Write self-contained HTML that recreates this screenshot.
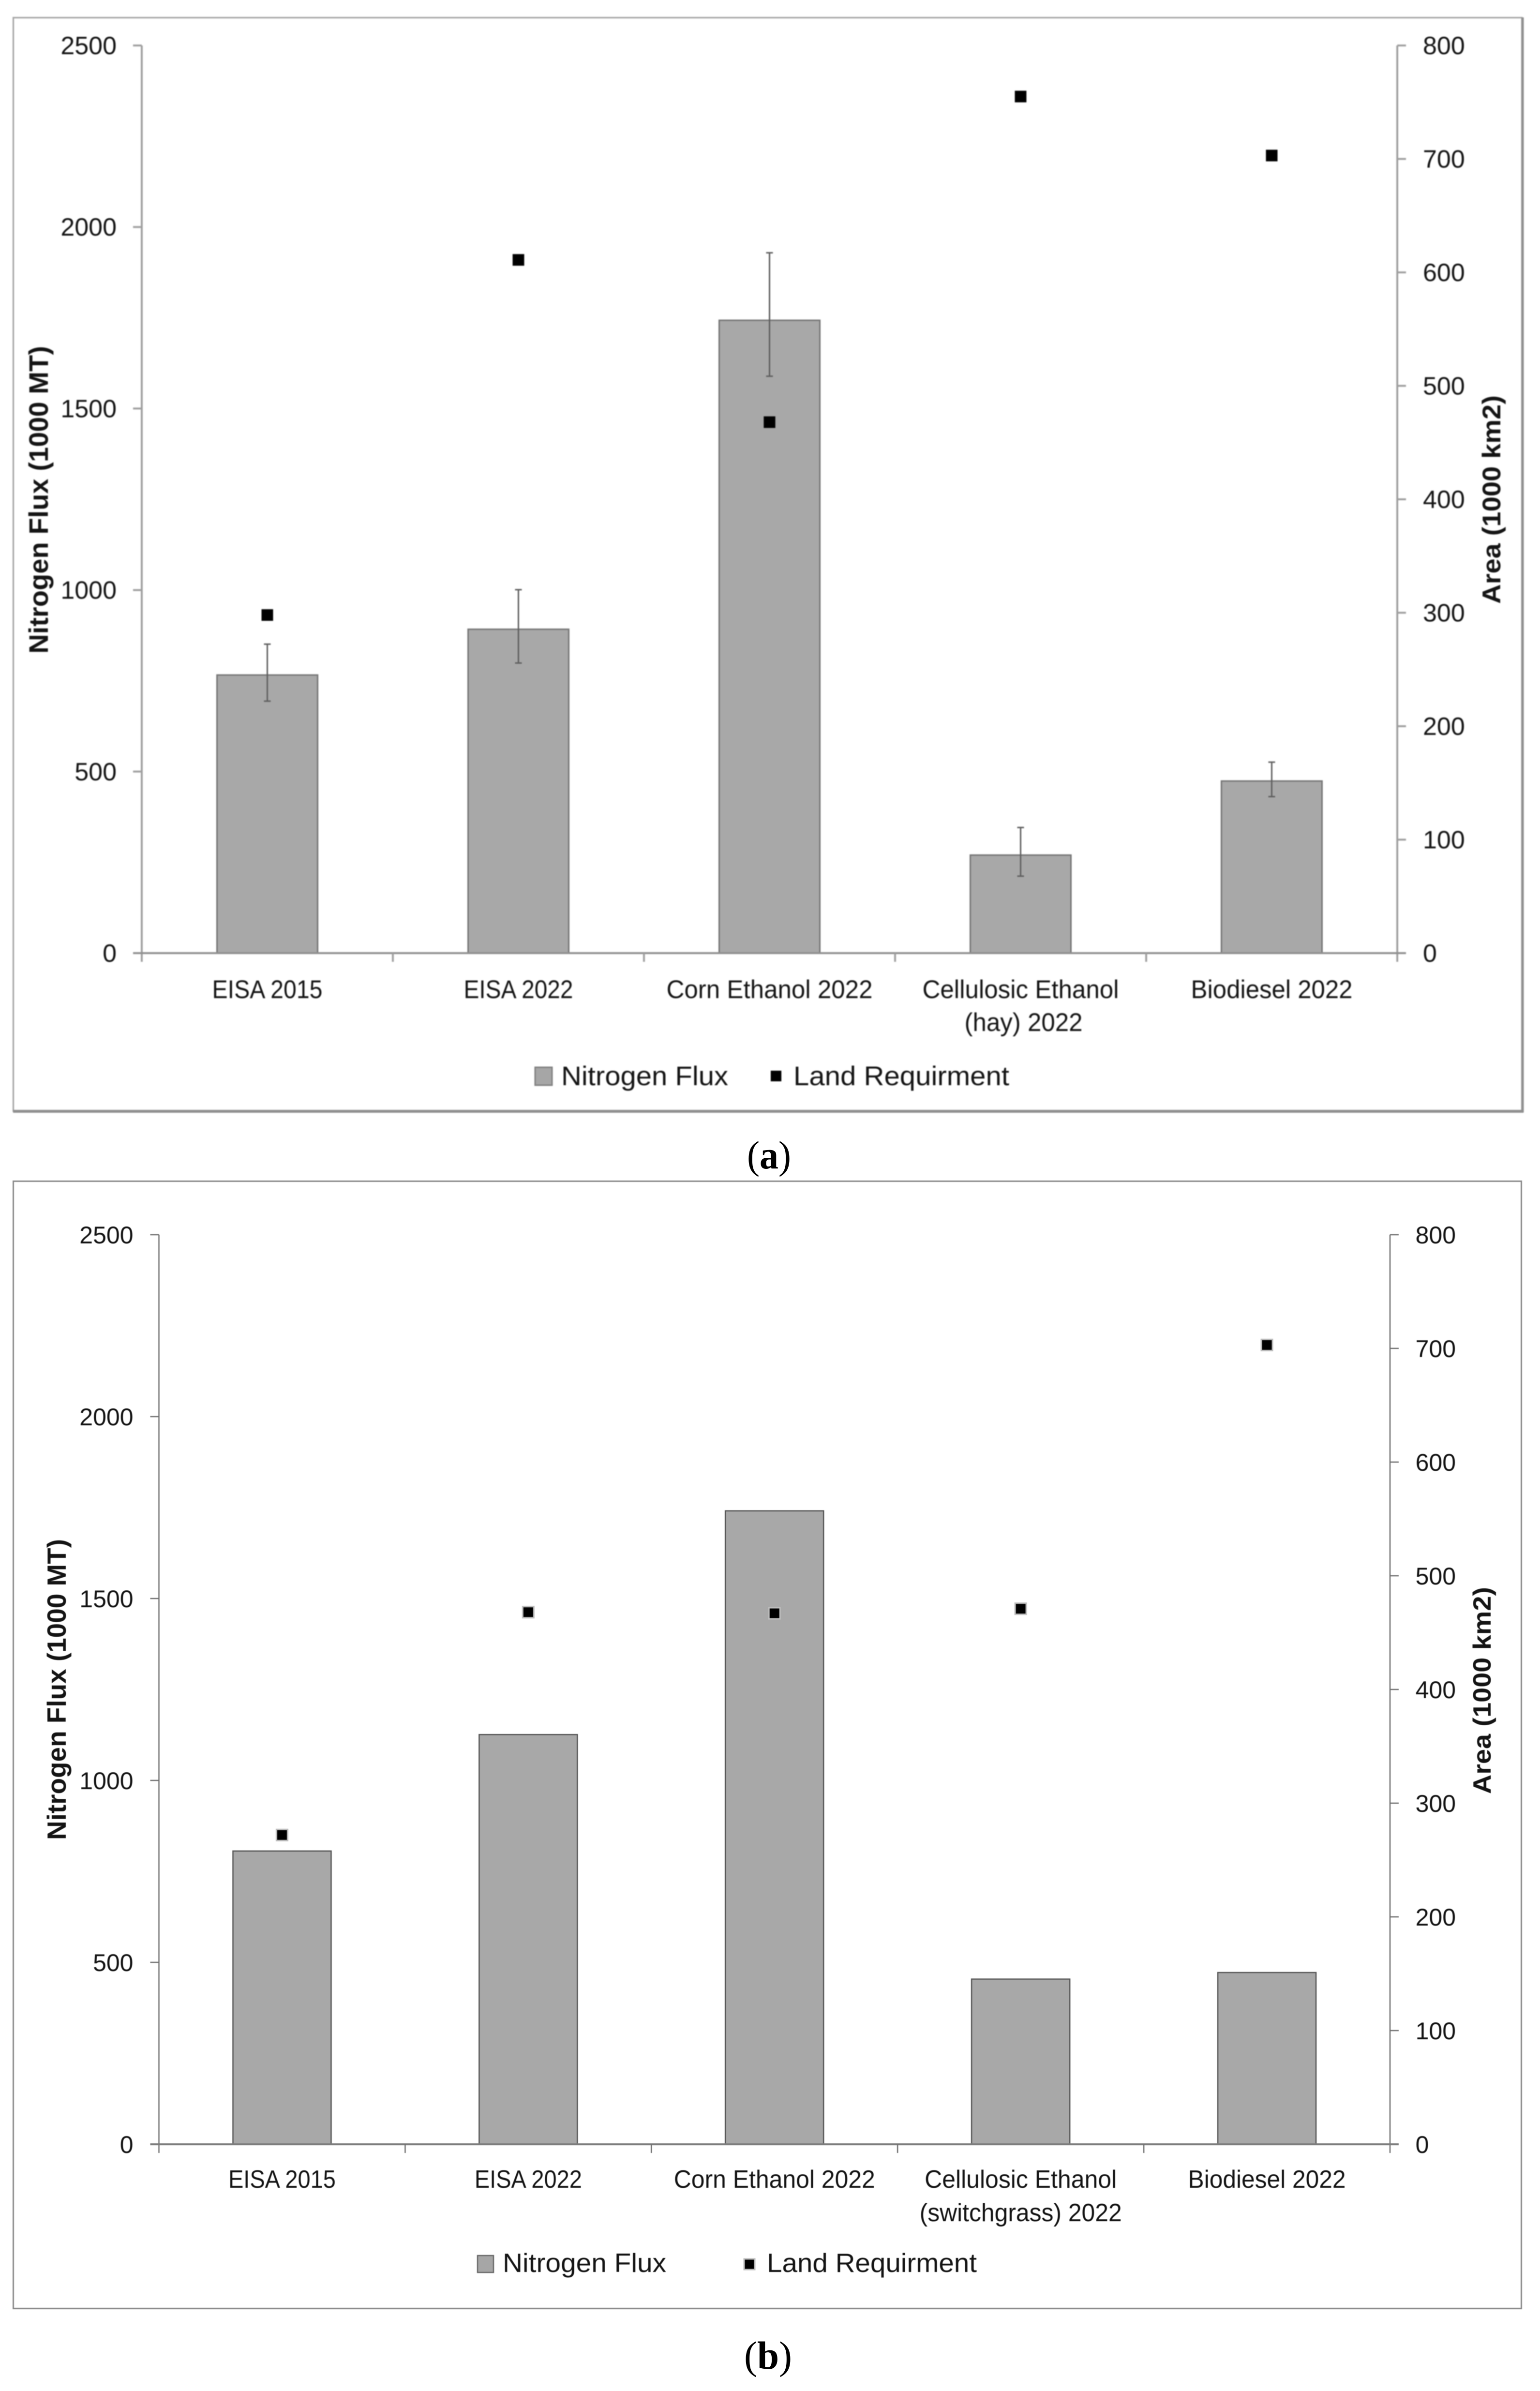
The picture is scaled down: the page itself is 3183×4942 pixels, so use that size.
<!DOCTYPE html>
<html lang="en">
<head>
<meta charset="utf-8">
<title>Nitrogen Flux and Land Requirement</title>
<style>
html,body{margin:0;padding:0;background:#fff;width:3183px;height:4942px;overflow:hidden}
svg{display:block}
text{font-family:"Liberation Sans",sans-serif;fill:#141414}
.caption{font-family:"Liberation Serif",serif;font-size:82px;fill:#000}
.blur-a{filter:blur(1.1px)}
.blur-b{filter:blur(.5px)}
</style>
</head>
<body>
<svg id="root" width="3183" height="4942" viewBox="0 0 3183 4942" xmlns="http://www.w3.org/2000/svg">
  <rect width="3183" height="4942" fill="#fff"/>

  <g class="blur-a" id="chart-a">
    <rect x="27.5" y="36.5" width="3118" height="2260" fill="#fff" stroke="#a2a2a2" stroke-width="3"/>
    <line x1="3147" y1="36" x2="3147" y2="2299" stroke="#8f8f8f" stroke-width="5"/>
    <line x1="27" y1="2297" x2="3149" y2="2297" stroke="#8f8f8f" stroke-width="6"/>
    <text transform="translate(99,1351) rotate(-90)" font-size="56" font-weight="bold" textLength="636" lengthAdjust="spacingAndGlyphs">Nitrogen Flux (1000 MT)</text>
    <text transform="translate(3101,1248) rotate(-90)" font-size="53" font-weight="bold" textLength="431" lengthAdjust="spacingAndGlyphs">Area (1000 km2)</text>
    <g>
      <rect x="1106" y="2206" width="35" height="37" fill="#a6a6a6" stroke="#808080" stroke-width="3"/>
      <text x="1160" y="2243" font-size="56" textLength="345" lengthAdjust="spacingAndGlyphs">Nitrogen Flux</text>
      <rect x="1593" y="2213" width="22" height="22" fill="#000"/>
      <text x="1640" y="2243" font-size="56" textLength="446" lengthAdjust="spacingAndGlyphs">Land Requirment</text>
    </g>
  </g>
  <text class="caption" x="1544" y="2415" textLength="91" lengthAdjust="spacingAndGlyphs">(<tspan font-weight="bold">a</tspan>)</text>

  <g class="blur-b" id="chart-b">
    <rect x="27.5" y="2441.5" width="3117" height="2330" fill="#fff" stroke="#8c8c8c" stroke-width="3"/>
    <text transform="translate(136,3803) rotate(-90)" font-size="55" font-weight="bold" textLength="622" lengthAdjust="spacingAndGlyphs">Nitrogen Flux (1000 MT)</text>
    <text transform="translate(3081,3708) rotate(-90)" font-size="52" font-weight="bold" textLength="428" lengthAdjust="spacingAndGlyphs">Area (1000 km2)</text>
    <g>
      <rect x="987" y="4662" width="33" height="35" fill="#a6a6a6" stroke="#666" stroke-width="2.5"/>
      <text x="1039" y="4696" font-size="55" textLength="338" lengthAdjust="spacingAndGlyphs">Nitrogen Flux</text>
      <rect x="1538" y="4669" width="22" height="22" fill="#000" stroke="#bdbdbd" stroke-width="3"/>
      <text x="1585" y="4696" font-size="55" textLength="434" lengthAdjust="spacingAndGlyphs">Land Requirment</text>
    </g>
  </g>
  <text class="caption" x="1538" y="4896" textLength="99" lengthAdjust="spacingAndGlyphs">(<tspan font-weight="bold">b</tspan>)</text>
</svg>

<script>
// Values
const leftTicks = [0, 500, 1000, 1500, 2000, 2500];
const rightTicks = [0, 100, 200, 300, 400, 500, 600, 700, 800];

const aCategories = ['EISA 2015', 'EISA 2022', 'Corn Ethanol 2022', 'Cellulosic Ethanol\n(hay) 2022', 'Biodiesel 2022'];
const aNitrogen = [766, 892, 1743, 270, 474];
const aErrorLow = [694, 799, 1589, 212, 431];
const aErrorHigh = [851, 1001, 1929, 346, 526];
const aLand = [298, 611, 468, 755, 703];

const bCategories = ['EISA 2015', 'EISA 2022', 'Corn Ethanol 2022', 'Cellulosic Ethanol\n(switchgrass) 2022', 'Biodiesel 2022'];
const bNitrogen = [806, 1126, 1741, 454, 472];
const bLand = [272, 468, 467, 471, 703];

const SVGNS = 'http://www.w3.org/2000/svg';

function make(tag, parent, attrs, content) {
  const node = document.createElementNS(SVGNS, tag);
  for (const key in attrs) node.setAttribute(key, attrs[key]);
  if (content !== undefined) node.textContent = content;
  parent.appendChild(node);
  return node;
}

function drawChart(parent, layout, categories, nitrogen, land, errLow, errHigh) {
  const leftMax = leftTicks[leftTicks.length - 1];
  const rightMax = rightTicks[rightTicks.length - 1];
  const yLeft = v => layout.y0 - (v / leftMax) * (layout.y0 - layout.yTop);
  const yRight = v => layout.y0 - (v / rightMax) * (layout.y0 - layout.yTop);
  const band = (layout.xRight - layout.xLeft) / categories.length;
  const xCenter = i => layout.xLeft + band * (i + 0.5);

  // bars
  nitrogen.forEach((v, i) => {
    const el = make('rect', parent, {
      x: xCenter(i) - layout.barWidth / 2,
      y: yLeft(v),
      width: layout.barWidth,
      height: layout.y0 - yLeft(v),
      fill: '#a8a8a8',
      stroke: layout.barStroke,
      'stroke-width': layout.barStrokeWidth
    });
    
    
  });

  // error bars
  if (errLow && errHigh) {
    errLow.forEach((low, i) => {
      const g = make('g', parent, { stroke: '#5f5f5f', 'stroke-width': 3 });
      
      
      const x = xCenter(i) + layout.markerDx;
      make('line', g, { x1: x, x2: x, y1: yLeft(errHigh[i]), y2: yLeft(low) });
      make('line', g, { x1: x - 7, x2: x + 7, y1: yLeft(errHigh[i]), y2: yLeft(errHigh[i]) });
      make('line', g, { x1: x - 7, x2: x + 7, y1: yLeft(low), y2: yLeft(low) });
    });
  }

  // axes
  const axisAttrs = { stroke: layout.axisColor, 'stroke-width': layout.axisWidth };
  let el = make('line', parent, Object.assign({ x1: layout.xLeft, x2: layout.xLeft, y1: layout.yTop, y2: layout.y0 + layout.tickLen }, axisAttrs));
  
  
  el = make('line', parent, Object.assign({ x1: layout.xRight, x2: layout.xRight, y1: layout.yTop, y2: layout.y0 + layout.tickLen }, axisAttrs));
  
  
  el = make('line', parent, { x1: layout.xLeft - layout.tickLen, x2: layout.xRight + layout.tickLen, y1: layout.y0, y2: layout.y0, stroke: layout.baseColor, 'stroke-width': layout.baseWidth });
  
  

  // left ticks
  leftTicks.forEach(v => {
    const y = yLeft(v);
    if (v !== 0) {
      const t = make('line', parent, Object.assign({ x1: layout.xLeft - layout.tickLen, x2: layout.xLeft, y1: y, y2: y }, axisAttrs));
      
      
    }
    const lab = make('text', parent, { x: layout.leftLabelX, y: y + 18, 'text-anchor': 'end', 'font-size': layout.tickFont }, String(v));
    
    
  });

  // right ticks
  rightTicks.forEach(v => {
    const y = yRight(v);
    if (v !== 0) {
      const t = make('line', parent, Object.assign({ x1: layout.xRight, x2: layout.xRight + layout.tickLen, y1: y, y2: y }, axisAttrs));
      
      
    }
    const lab = make('text', parent, { x: layout.rightLabelX, y: y + 18, 'font-size': layout.tickFont }, String(v));
    
    
  });

  // category ticks and labels
  for (let i = 0; i < categories.length; i++) {
    const x = layout.xLeft + band * (i + 1);
    if (i < categories.length - 1) {
      const t = make('line', parent, Object.assign({ x1: x, x2: x, y1: layout.y0, y2: layout.y0 + layout.tickLen }, axisAttrs));
      
      
    }
  }
  categories.forEach((name, i) => {
    name.split('\n').forEach((line, n) => {
      const attrs = {
        x: xCenter(i) + (n ? layout.line2Dx : 0),
        y: n ? layout.labelY2 : layout.labelY1,
        'text-anchor': 'middle',
        'font-size': layout.labelFont,
        lengthAdjust: 'spacingAndGlyphs'
      };
      if (layout.fit[line]) attrs.textLength = layout.fit[line];
      const lab = make('text', parent, attrs, line);
      
      
    });
  });

  // land requirement markers
  land.forEach((v, i) => {
    const s = layout.marker;
    const attrs = { x: xCenter(i) + layout.markerDx - s / 2, y: yRight(v) - s / 2, width: s, height: s, fill: '#000' };
    if (layout.markerHalo) {
      attrs.stroke = layout.markerHalo;
      attrs['stroke-width'] = 3;
    }
    const m = make('rect', parent, attrs);
    
    
  });
}

drawChart(document.getElementById('chart-a'), {
  xLeft: 293, xRight: 2888, yTop: 94, y0: 1970,
  barWidth: 208, barStroke: '#757575', barStrokeWidth: 3,
  axisColor: '#a0a0a0', axisWidth: 4, baseColor: '#8f8f8f', baseWidth: 4, tickLen: 18,
  leftLabelX: 241, rightLabelX: 2941, tickFont: 52,
  labelFont: 53, labelY1: 2063, labelY2: 2131, line2Dx: 6,
  marker: 24, markerDx: 0, markerHalo: null,
  fit: { 'EISA 2015': 228, 'EISA 2022': 226, 'Corn Ethanol 2022': 426, 'Cellulosic Ethanol': 406, '(hay) 2022': 244, 'Biodiesel 2022': 334 }
}, aCategories, aNitrogen, aLand, aErrorLow, aErrorHigh);

drawChart(document.getElementById('chart-b'), {
  xLeft: 328.5, xRight: 2873, yTop: 2552, y0: 4432,
  barWidth: 203, barStroke: '#555555', barStrokeWidth: 2.5,
  axisColor: '#6f6f6f', axisWidth: 2.5, baseColor: '#7d7d7d', baseWidth: 4, tickLen: 18,
  leftLabelX: 275.5, rightLabelX: 2925.6, tickFont: 50,
  labelFont: 52, labelY1: 4522, labelY2: 4591, line2Dx: 0,
  marker: 23, markerDx: 0, markerHalo: '#bdbdbd',
  fit: { 'EISA 2015': 222, 'EISA 2022': 222, 'Corn Ethanol 2022': 416, 'Cellulosic Ethanol': 397, '(switchgrass) 2022': 418, 'Biodiesel 2022': 326 }
}, bCategories, bNitrogen, bLand);
</script>
</body>
</html>
